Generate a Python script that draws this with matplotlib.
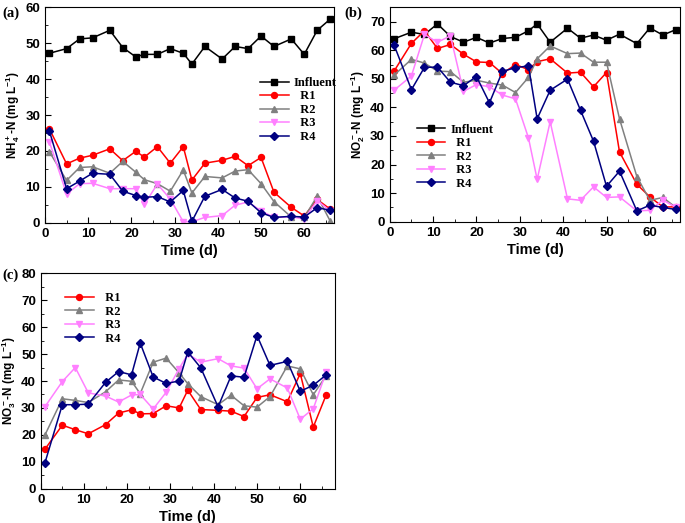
import numpy as np
import matplotlib
matplotlib.use("Agg")
import matplotlib.pyplot as plt
from matplotlib.ticker import MultipleLocator

plt.rcParams['font.family'] = 'Liberation Sans'
plt.rcParams['font.weight'] = 'bold'
plt.rcParams['mathtext.fontset'] = 'custom'
plt.rcParams['mathtext.rm'] = 'Liberation Sans:bold'
plt.rcParams['mathtext.it'] = 'Liberation Sans:bold'
plt.rcParams['mathtext.bf'] = 'Liberation Sans:bold'

# sampling days
days_ac = [1, 5, 8, 11, 15, 18, 21, 23, 26, 29, 32, 34, 37, 41, 44, 47, 50, 53, 57, 60, 63, 66]
days_b = [1, 5, 8, 11, 14, 17, 20, 23, 26, 29, 32, 34, 37, 41, 44, 47, 50, 53, 57, 60, 63, 66]

# (a) NH4+-N
nh4_inf = [47.2, 48.5, 51.2, 51.5, 53.6, 48.8, 46.2, 46.9, 46.9, 48.5, 47.2, 44.2, 49.1, 45.6, 49.1, 48.5, 52.0, 49.1, 51.2, 46.9, 53.6, 56.7]
nh4_r1 = [26.2, 16.4, 18.0, 18.8, 20.6, 17.3, 19.9, 18.3, 21.2, 16.6, 21.2, 11.9, 16.6, 17.4, 18.5, 15.9, 18.2, 8.5, 4.3, 1.9, 6.5, 3.8]
nh4_r2 = [19.8, 11.8, 15.4, 15.6, 13.8, 17.1, 14.1, 12.0, 10.9, 8.8, 14.7, 8.3, 12.9, 12.5, 14.4, 14.8, 10.9, 5.9, 1.6, 1.5, 7.4, 0.5]
nh4_r3 = [22.6, 8.0, 10.9, 11.0, 9.5, 9.5, 9.5, 5.1, 10.8, 6.6, 0.3, 0.3, 1.5, 2.0, 4.9, 5.8, 3.3, 1.5, 1.7, 1.0, 6.2, 3.3]
nh4_r4 = [25.6, 9.5, 11.6, 13.8, 13.5, 8.8, 7.6, 7.1, 7.3, 5.8, 9.0, 0.4, 7.4, 9.3, 6.9, 6.0, 2.8, 1.5, 1.8, 1.6, 4.2, 3.5]

# (b) NO2-N
no2_inf = [64.0, 66.3, 65.5, 69.2, 64.8, 62.8, 64.5, 62.5, 64.1, 64.5, 66.8, 69.2, 62.8, 67.7, 64.2, 65.3, 63.5, 65.6, 62.3, 67.8, 65.3, 67.2]
no2_r1 = [52.7, 62.4, 66.8, 60.6, 62.0, 58.6, 55.9, 55.7, 51.8, 55.0, 53.2, 56.0, 57.0, 52.0, 52.3, 47.2, 52.2, 24.4, 13.1, 8.7, 5.2, 5.2]
no2_r2 = [51.3, 56.8, 55.5, 52.7, 52.5, 48.8, 49.5, 48.5, 47.8, 45.2, 50.5, 57.0, 61.5, 58.8, 59.0, 55.8, 55.8, 36.0, 15.8, 7.5, 8.5, 5.0]
no2_r3 = [46.0, 51.0, 65.5, 62.8, 65.0, 45.6, 48.0, 47.2, 44.3, 43.0, 29.3, 14.8, 35.0, 8.0, 7.5, 12.2, 8.5, 8.7, 3.8, 4.0, 7.6, 5.0]
no2_r4 = [61.8, 46.2, 54.0, 54.1, 48.8, 47.6, 50.8, 41.6, 52.6, 53.9, 54.5, 36.0, 46.0, 49.9, 39.0, 28.2, 12.4, 17.7, 3.8, 5.8, 5.0, 4.3]

# (c) NO3-N
no3_r1 = [14.7, 23.6, 21.9, 20.4, 23.8, 28.1, 29.3, 27.8, 27.9, 30.8, 30.0, 36.6, 29.4, 29.1, 28.8, 26.8, 33.9, 34.9, 32.3, 42.8, 22.9, 34.9]
no3_r2 = [20.0, 33.4, 32.8, 32.0, 36.0, 40.4, 39.9, 35.3, 47.0, 48.5, 43.0, 39.0, 34.2, 31.2, 34.7, 30.8, 30.3, 34.2, 45.6, 44.5, 34.9, 42.0]
no3_r3 = [30.5, 39.8, 45.0, 35.6, 34.4, 32.2, 34.8, 35.0, 29.6, 35.8, 44.6, 50.0, 47.0, 48.3, 45.6, 44.8, 37.1, 40.8, 37.4, 25.8, 29.7, 43.4]
no3_r4 = [9.7, 31.2, 31.2, 31.4, 39.5, 43.5, 42.3, 54.1, 41.5, 39.1, 40.0, 50.8, 44.9, 30.4, 41.9, 41.4, 56.9, 45.8, 47.3, 36.2, 38.4, 42.3]

styles = {
    'Influent': dict(color='black', marker='s'),
    'R1': dict(color='#ff0000', marker='o'),
    'R2': dict(color='#808080', marker='^'),
    'R3': dict(color='#ff80ff', marker='v'),
    'R4': dict(color='#000080', marker='D'),
}


def draw(ax, x, series, ylabel, ymax, ystep, leg_anchor):
    for name, y in series:
        st = styles[name]
        lab = name if name == 'Influent' else '  ' + name
        ms = 3.6 if st['marker'] == 'D' else 4.3
        ax.plot(x, y, color=st['color'], marker=st['marker'], ms=ms, lw=1.1, label=lab)
    ax.set_xlim(0, 67)
    ax.set_ylim(0, ymax)
    ax.xaxis.set_major_locator(MultipleLocator(10))
    ax.xaxis.set_minor_locator(MultipleLocator(5))
    ax.yaxis.set_major_locator(MultipleLocator(ystep))
    ax.yaxis.set_minor_locator(MultipleLocator(ystep / 2))
    ax.tick_params(which='both', direction='in', labelsize=9.5)
    ax.tick_params(which='major', length=4)
    ax.tick_params(which='minor', length=2.5)
    ax.set_xlabel('Time (d)', fontsize=10.5, fontweight='bold', labelpad=3)
    ax.set_ylabel(ylabel, fontsize=8.5, fontweight='bold', labelpad=2)
    ax.legend(loc='upper left', bbox_to_anchor=leg_anchor, frameon=False,
              prop={'family': 'Liberation Serif', 'weight': 'bold', 'size': 9},
              handlelength=2.3, labelspacing=0.12, borderaxespad=0, handletextpad=0.4)


fig = plt.figure(figsize=(6.85, 5.23), dpi=100)
ax_a = fig.add_axes([0.0657, 0.574, 0.4226, 0.412])
ax_b = fig.add_axes([0.569, 0.576, 0.424, 0.410])
ax_c = fig.add_axes([0.0594, 0.0656, 0.4295, 0.4118])

draw(ax_a, days_ac, [('Influent', nh4_inf), ('R1', nh4_r1), ('R2', nh4_r2), ('R3', nh4_r3), ('R4', nh4_r4)],
     r'NH$_4^+$-N (mg L$^{-1}$)', 60, 10, (0.725, 0.70))
draw(ax_b, days_b, [('Influent', no2_inf), ('R1', no2_r1), ('R2', no2_r2), ('R3', no2_r3), ('R4', no2_r4)],
     r'NO$_2^-$-N (mg L$^{-1}$)', 75, 10, (0.075, 0.48))
draw(ax_c, days_ac, [('R1', no3_r1), ('R2', no3_r2), ('R3', no3_r3), ('R4', no3_r4)],
     r'NO$_3^-$-N (mg L$^{-1}$)', 80, 10, (0.065, 0.935))
ax_c.set_xlim(0, 68)

fig.text(0.003, 0.975, '(a)', fontsize=10.5, fontweight='bold', family='Liberation Serif', va='center')
fig.text(0.503, 0.975, '(b)', fontsize=10.5, fontweight='bold', family='Liberation Serif', va='center')
fig.text(0.003, 0.473, '(c)', fontsize=10.5, fontweight='bold', family='Liberation Serif', va='center')

fig.savefig('out.png', dpi=100)
